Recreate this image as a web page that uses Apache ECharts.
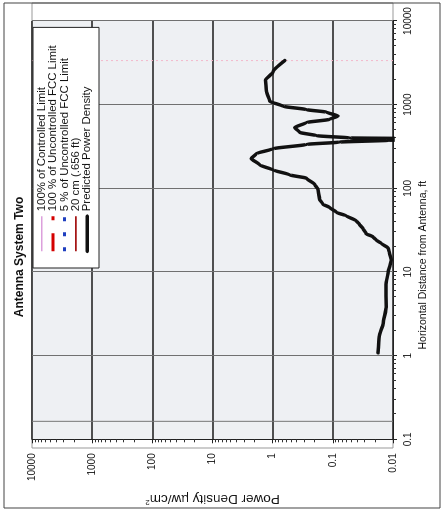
<!DOCTYPE html>
<html>
<head>
<meta charset="utf-8">
<title>Antenna System Two</title>
<script src="https://cdn.jsdelivr.net/npm/echarts@6/dist/echarts.min.js"></script>
<style>
html, body { margin: 0; padding: 0; background: #fff; }
body { width: 443px; height: 514px; overflow: hidden; position: relative; }
/* chart is drawn upright and turned a quarter left, like the scanned page */
#main { position: absolute; left: 0; top: 0; width: 514px; height: 443px;
        transform-origin: 0 0; transform: translate(0, 514px) rotate(-90deg); }
</style>
</head>
<body>
<div id="main"></div>
<script>
var distanceFt = [1.08, 1.7, 2.43, 3.8, 7.1, 10.2, 12, 14, 16.8, 19.2, 22, 24, 26.3, 28.7, 33, 37, 41, 47, 51.5, 59,
    64.5, 74, 97, 111, 132, 145, 166, 190, 227, 260, 297, 335, 357, 375, 385, 393, 400, 426, 466, 534,
    611, 668, 731, 814, 873, 957, 1096, 1436, 1963, 2460, 3365];
var powerDensity = [0.0177, 0.017, 0.0145, 0.013, 0.0131, 0.012, 0.0112, 0.0107, 0.0114, 0.012, 0.0156, 0.019, 0.0215, 0.028, 0.0316, 0.036, 0.041, 0.06, 0.087, 0.113,
    0.146, 0.166, 0.177, 0.2, 0.275, 0.52, 0.99, 1.64, 2.26, 1.87, 0.99, 0.275, 0.077, 0.012, 0.003, 0.004, 0.052, 0.188, 0.355, 0.43,
    0.275, 0.113, 0.082, 0.128, 0.275, 0.67, 1.12, 1.27, 1.31, 0.99, 0.63];

var distanceTicks = [0.1, 1, 10, 100, 1000, 10000];
var distanceTickLabels = ['0.1', '1', '10', '100', '1000', '10000'];
var powerTicks = [0.01, 0.1, 1, 10, 100, 1000, 10000];
var powerTickLabels = ['0.01', '0.1', '1', '10', '100', '1000', '10000'];

// faint pink vertical and the grey near-field line seen on the scan
var controlledLimitDist = [3365, 3365];
var controlledLimitPower = [0.01, 10000];
var nearLineDist = [0.164, 0.164];
var nearLinePower = [0.01, 10000];

var legendNames = ['100% of Controlled Limit', '100 % of Uncontrolled FCC Limit', '5 % of Uncontrolled FCC Limit', '20 cm (.656 ft)', 'Predicted Power Density'];

function pairs(xs, ys) {
    var out = [];
    xs.forEach(function (x, i) { out.push([x, ys[i]]); });
    return out;
}
function tickLabel(ticks, labels) {
    return function (v) {
        for (var i = 0; i < ticks.length; i++) {
            if (Math.abs(Math.log10(v / ticks[i])) < 1e-6) return labels[i];
        }
        return '';
    };
}

var font = 'Liberation Sans';
var myChart = echarts.init(document.getElementById('main'));

var option = {
    animation: false,
    textStyle: { fontFamily: font, color: '#111' },
    title: {
        text: 'Antenna System Two',
        left: 'center',
        top: 14,
        padding: 0,
        textStyle: { fontFamily: font, fontSize: 12, fontWeight: 'bold', color: '#111' }
    },
    legend: {
        orient: 'vertical',
        left: 246,
        top: 33,
        padding: [3, 18, 6, 15],
        itemWidth: 35,
        itemHeight: 11.4,
        itemGap: 0,
        selectedMode: false,
        backgroundColor: '#fff',
        borderColor: '#222',
        borderWidth: 1,
        itemStyle: { color: 'transparent', borderWidth: 0, opacity: 0 },
        lineStyle: { width: 'inherit' },
        textStyle: { fontFamily: font, fontSize: 11.4, lineHeight: 11.4, color: '#111' },
        data: legendNames
    },
    grid: {
        left: 66, right: 21, top: 32, bottom: 50,
        show: true,
        backgroundColor: '#eef0f3',
        borderWidth: 0
    },
    graphic: [
        { type: 'rect', z: -10, shape: { x: 66, y: 32, width: 445, height: 361 },
          style: { fill: '#fff', stroke: '#999', lineWidth: 1 } },
        { type: 'rect', z: 100, shape: { x: 6, y: 4, width: 505, height: 436 },
          style: { fill: 'none', stroke: '#444', lineWidth: 1 } }
    ],
    xAxis: {
        type: 'log',
        logBase: 10,
        min: 0.1,
        max: 10000,
        axisLine: { show: true, onZero: false, lineStyle: { color: '#222', width: 1 } },
        axisTick: { show: true, length: 4, lineStyle: { color: '#222' } },
        minorTick: { show: true, splitNumber: 9, length: 3, lineStyle: { color: '#333' } },
        axisLabel: { fontSize: 10, margin: 10, color: '#111', formatter: tickLabel(distanceTicks, distanceTickLabels) },
        splitLine: { show: true, lineStyle: { color: '#707070', width: 1 } },
        name: 'Horizontal Distance from Antenna, ft',
        nameLocation: 'middle',
        nameGap: 24,
        nameTextStyle: { fontFamily: font, fontSize: 10.5, color: '#111', padding: [0, 70, 0, 0] }
    },
    yAxis: {
        type: 'log',
        logBase: 10,
        min: 0.01,
        max: 10000,
        axisLine: { show: true, onZero: false, lineStyle: { color: '#222', width: 1 } },
        axisTick: { show: true, length: 4, lineStyle: { color: '#222' } },
        minorTick: { show: true, splitNumber: 9, length: 3, lineStyle: { color: '#333' } },
        axisLabel: { fontSize: 10, margin: 14, color: '#111', formatter: tickLabel(powerTicks, powerTickLabels) },
        splitLine: { show: true, lineStyle: { color: '#1a1a1a', width: 1.5 } },
        name: 'Power Density µw/cm{sup|2}',
        nameLocation: 'middle',
        nameGap: 43,
        nameTextStyle: {
            fontFamily: font, fontSize: 13.5, color: '#111',
            rich: { sup: { fontSize: 8, verticalAlign: 'top', padding: [0, 0, 6, 0] } }
        }
    },
    series: [
        {
            name: legendNames[0], type: 'line', symbol: 'none',
            lineStyle: { color: '#dca0dc', width: 1.5 },
            data: []
        },
        {
            name: legendNames[1], type: 'line', symbol: 'none',
            lineStyle: { color: '#d40000', width: 3, type: [18, 13] },
            data: []
        },
        {
            name: legendNames[2], type: 'line', symbol: 'none',
            lineStyle: { color: '#1f3fbf', width: 3, type: [4, 11] },
            data: []
        },
        {
            name: legendNames[3], type: 'line', symbol: 'none',
            lineStyle: { color: '#a51616', width: 1.8 },
            data: []
        },
        {
            name: 'limitTrace', type: 'line', symbol: 'none', silent: true,
            lineStyle: { color: '#f2b8cc', width: 1, type: [2, 3] },
            data: pairs(controlledLimitDist, controlledLimitPower)
        },
        {
            name: 'near', type: 'line', symbol: 'none', silent: true,
            lineStyle: { color: '#777', width: 1 },
            data: pairs(nearLineDist, nearLinePower)
        },
        {
            name: legendNames[4], type: 'line', symbol: 'none',
            smooth: 0.2, smoothMonotone: 'x',
            lineStyle: { color: '#111', width: 3.5, cap: 'round', join: 'round' },
            data: pairs(distanceFt, powerDensity)
        }
    ]
};

myChart.setOption(option);
</script>
</body>
</html>
